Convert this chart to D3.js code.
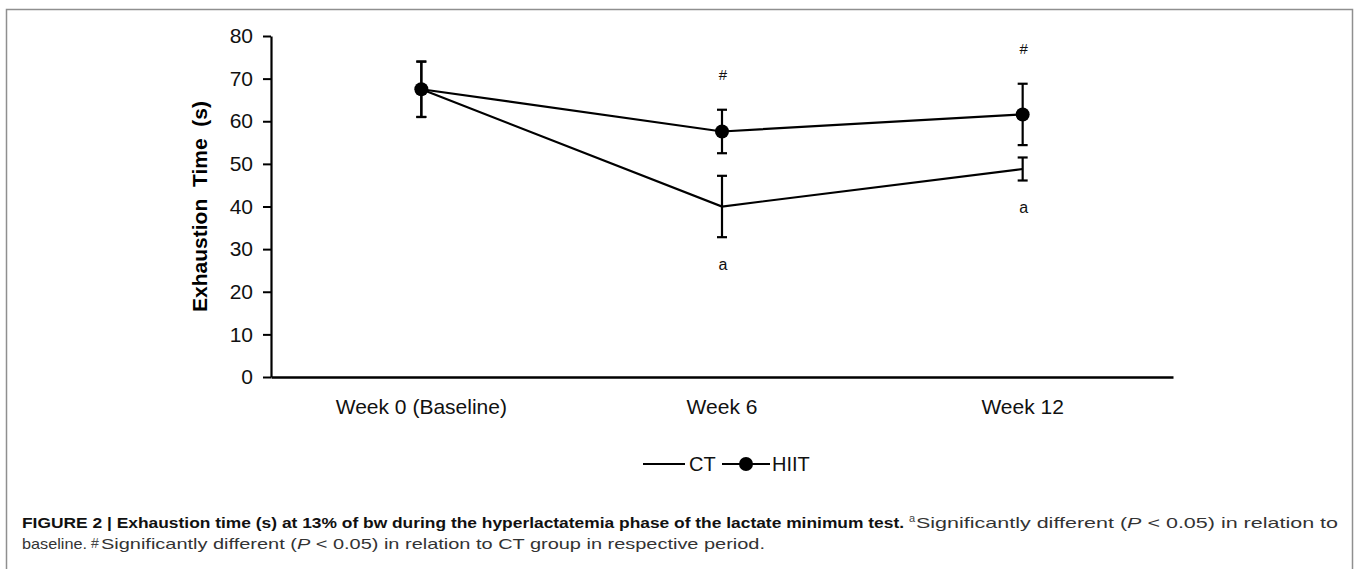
<!DOCTYPE html>
<html>
<head>
<meta charset="utf-8">
<script src="https://cdn.jsdelivr.net/npm/d3@7"></script>
<style>
  html, body { margin: 0; padding: 0; background: #fff; }
  svg { display: block; font-family: "Liberation Sans", Arial, sans-serif; }
</style>
</head>
<body>
<svg id="chart" width="1358" height="569"></svg>
<script>
// ---- data ----
const categories = ["Week 0 (Baseline)", "Week 6", "Week 12"];
const seriesNames = ["CT", "HIIT"];
const ctMean = [67.5, 40.0, 48.8];
const ctErr = [6.5, 7.2, 2.7];
const hiitMean = [67.5, 57.6, 61.6];
const hiitErr = [6.5, 5.1, 7.2];
const yTicks = [0, 10, 20, 30, 40, 50, 60, 70, 80];
const hashMarks = [false, true, true];   // "#" above HIIT
const aMarks = [false, true, true];      // "a" below CT
const yLabel = "Exhaustion  Time  (s)";

const svg = d3.select("#chart");

// frame
svg.append("rect")
  .attr("x", 6.5).attr("y", 9.5).attr("width", 1346).attr("height", 620)
  .attr("fill", "none").attr("stroke", "#8f8f8f").attr("stroke-width", 1.5);

const pLeft = 271, pRight = 1173, pTop = 36, pBottom = 377;
const x = d3.scaleBand().domain(categories).range([pLeft, pRight]).padding(0);
const y = d3.scaleLinear().domain([0, 80]).range([pBottom, pTop]);
const cx = c => x(c) + x.bandwidth() / 2;

// y axis
const yAxis = svg.append("g").attr("transform", `translate(${pLeft},0)`)
  .call(d3.axisLeft(y).tickValues(yTicks).tickSize(8).tickPadding(10).tickSizeOuter(0));
yAxis.select(".domain").attr("stroke", "#000").attr("stroke-width", 2.2);
yAxis.selectAll(".tick line").attr("stroke", "#000").attr("stroke-width", 2);
yAxis.selectAll(".tick text").attr("font-size", 21).attr("fill", "#111")
  .attr("font-family", "Liberation Sans, Arial, sans-serif");

// x axis
const xAxis = svg.append("g").attr("transform", `translate(0,${pBottom})`)
  .call(d3.axisBottom(x).tickSize(0).tickPadding(22).tickSizeOuter(0));
xAxis.select(".domain").attr("stroke", "#000").attr("stroke-width", 2.6);
xAxis.selectAll(".tick text").attr("font-size", 21).attr("fill", "#111")
  .attr("font-family", "Liberation Sans, Arial, sans-serif");

// y label
svg.append("text")
  .attr("transform", `translate(207,${(pTop + pBottom) / 2}) rotate(-90)`)
  .attr("text-anchor", "middle")
  .attr("font-size", 21).attr("font-weight", "bold")
  .style("white-space", "pre")
  .text(yLabel);

const line = d3.line().x((d, i) => cx(categories[i])).y(d => y(d));

function errorBars(means, errs) {
  const g = svg.append("g").attr("stroke", "#000").attr("stroke-width", 2.2);
  means.forEach((m, i) => {
    const xc = cx(categories[i]);
    g.append("line").attr("x1", xc).attr("x2", xc).attr("y1", y(m + errs[i])).attr("y2", y(m - errs[i]));
    [m + errs[i], m - errs[i]].forEach(v => {
      g.append("line").attr("x1", xc - 5).attr("x2", xc + 5).attr("y1", y(v)).attr("y2", y(v));
    });
  });
}

errorBars(ctMean, ctErr);
errorBars(hiitMean, hiitErr);

// CT line
svg.append("path").datum(ctMean).attr("d", line)
  .attr("fill", "none").attr("stroke", "#000").attr("stroke-width", 2.2);
// HIIT line
svg.append("path").datum(hiitMean).attr("d", line)
  .attr("fill", "none").attr("stroke", "#000").attr("stroke-width", 2.2);
svg.append("g").selectAll("circle").data(hiitMean).join("circle")
  .attr("cx", (d, i) => cx(categories[i])).attr("cy", d => y(d)).attr("r", 7).attr("fill", "#000");

// annotations
hiitMean.forEach((m, i) => {
  if (!hashMarks[i]) return;
  svg.append("text").attr("x", cx(categories[i]) + 1).attr("y", y(m + hiitErr[i]) - 35)
    .attr("text-anchor", "middle").attr("dominant-baseline", "central")
    .attr("font-size", 15).attr("fill", "#111").text("#");
});
ctMean.forEach((m, i) => {
  if (!aMarks[i]) return;
  svg.append("text").attr("x", cx(categories[i]) + 1).attr("y", y(m - ctErr[i]) + 27)
    .attr("text-anchor", "middle").attr("dominant-baseline", "central")
    .attr("font-size", 16).attr("fill", "#111").text("a");
});

// legend
const lg = svg.append("g").attr("transform", "translate(0,464)");
lg.append("line").attr("x1", 643).attr("x2", 685).attr("y1", 0).attr("y2", 0)
  .attr("stroke", "#000").attr("stroke-width", 2.2);
lg.append("text").attr("x", 689).attr("y", 0).attr("dominant-baseline", "central")
  .attr("font-size", 20).attr("fill", "#111").text(seriesNames[0]);
lg.append("line").attr("x1", 722).attr("x2", 770).attr("y1", 0).attr("y2", 0)
  .attr("stroke", "#000").attr("stroke-width", 2.2);
lg.append("circle").attr("cx", 746).attr("cy", 0).attr("r", 7).attr("fill", "#000");
lg.append("text").attr("x", 772).attr("y", 0).attr("dominant-baseline", "central")
  .attr("font-size", 20).attr("fill", "#111").text(seriesNames[1]);

// caption
const capFont = 15;
function capText(xs, xe, yy, str, opts) {
  const t = svg.append("text").attr("x", xs).attr("y", yy)
    .attr("font-size", opts.size || capFont)
    .attr("font-weight", opts.bold ? "bold" : "normal")
    .attr("fill", opts.fill || "#333")
    .style("white-space", "pre");
  if (xe) t.attr("textLength", xe - xs).attr("lengthAdjust", "spacingAndGlyphs");
  (opts.parts || [{ t: str }]).forEach(p => {
    const s = t.append("tspan").text(p.t);
    if (p.italic) s.attr("font-style", "italic");
  });
  return t;
}
const l1 = 528, l2 = 549;
capText(22, 904, l1, "FIGURE 2 | Exhaustion time (s) at 13% of bw during the hyperlactatemia phase of the lactate minimum test.", { bold: true, fill: "#111" });
capText(909, null, l1 - 6, "a", { size: 11, fill: "#444" });
capText(916, 1338, l1, "", { parts: [
  { t: "Significantly different (" }, { t: "P", italic: true }, { t: " < 0.05) in relation to" }
] });
capText(22, 87, l2, "baseline.", {});
capText(91, null, l2 - 1, "#", { size: 14, fill: "#444" });
capText(101, 765, l2, "", { parts: [
  { t: "Significantly different (" }, { t: "P", italic: true }, { t: " < 0.05) in relation to CT group in respective period." }
] });
</script>
</body>
</html>
